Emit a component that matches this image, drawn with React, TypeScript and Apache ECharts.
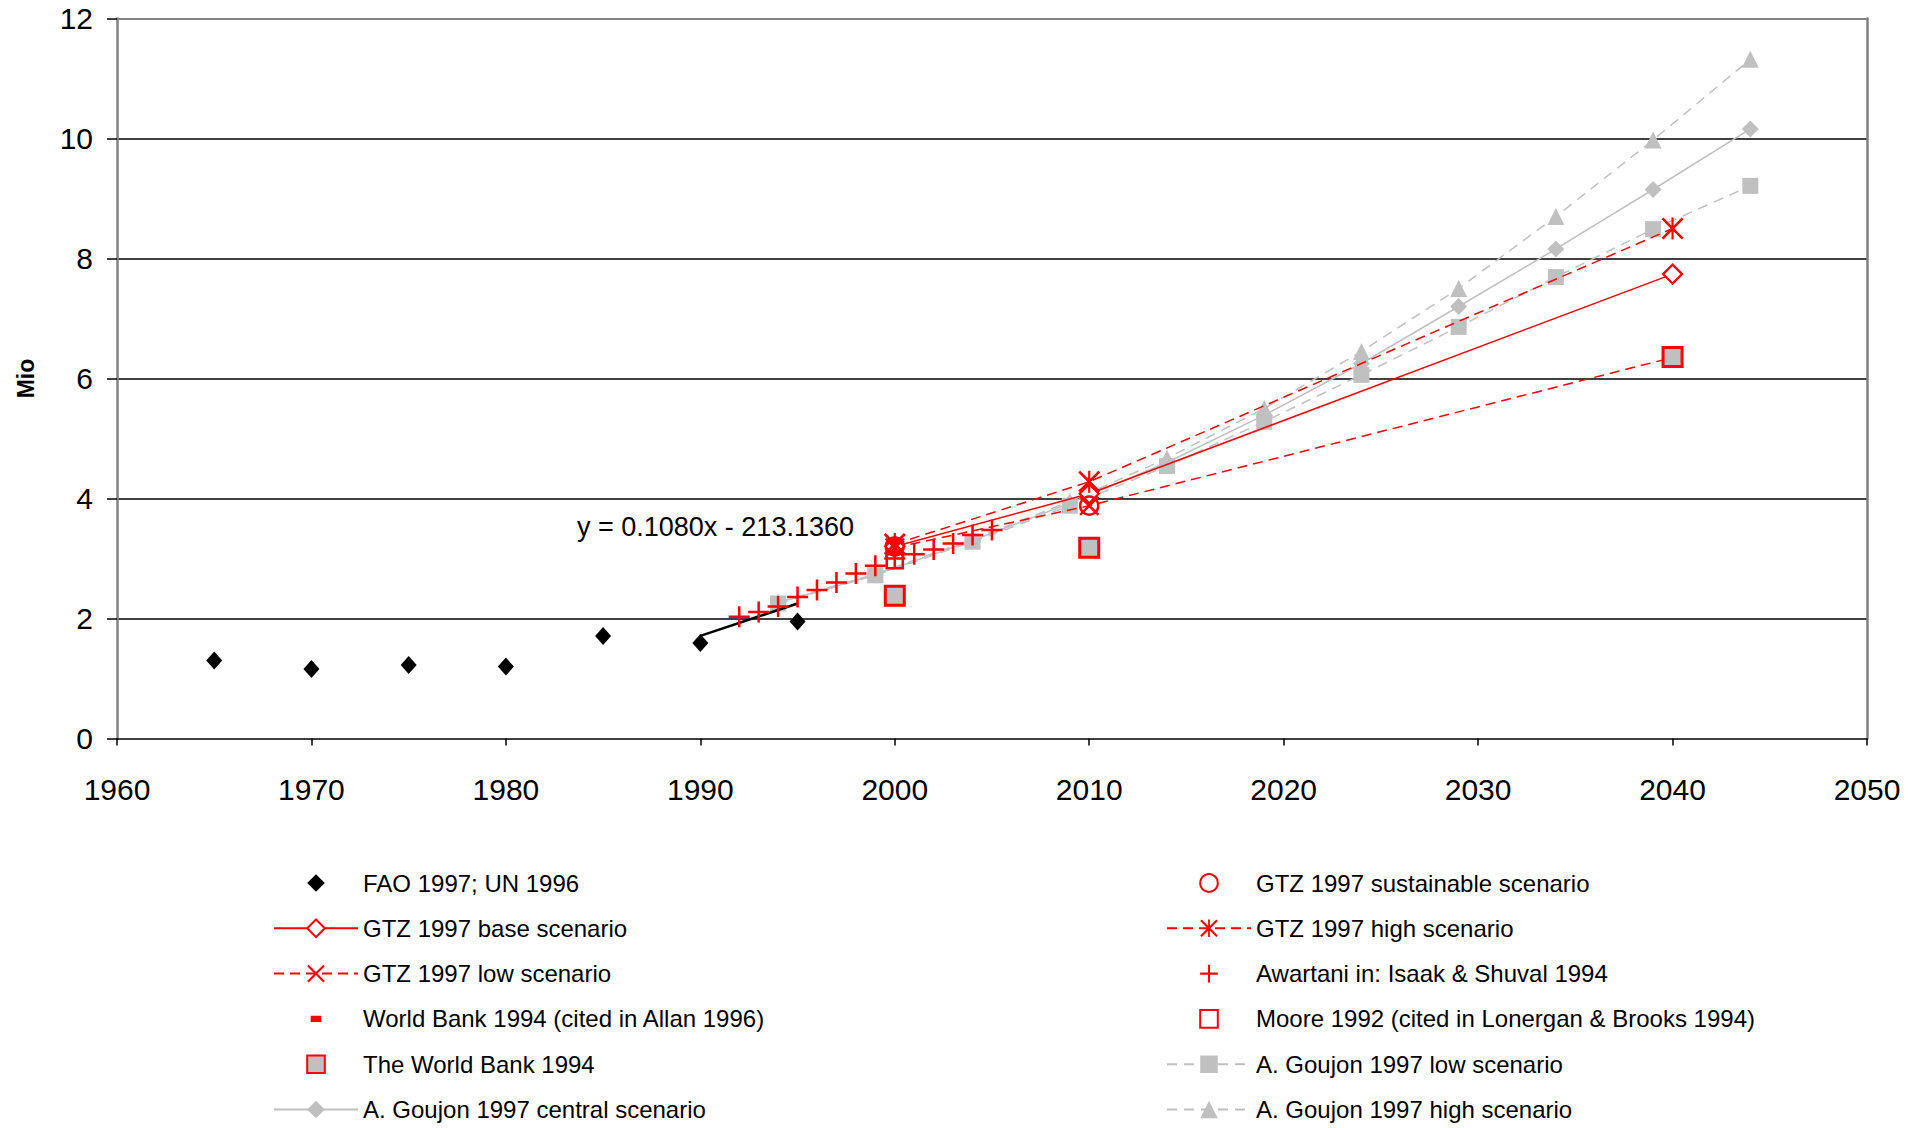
import React, { useEffect, useRef } from "react";
import * as echarts from "echarts";

// ---------- data ----------
const faoYears = [1965, 1970, 1975, 1980, 1985, 1990, 1995];
const faoValues = [1.3, 1.16, 1.225, 1.2, 1.71, 1.59, 1.95];

const trendYears = [1990, 1995];
const trendValues = [1.71, 2.25];

const gtzYears = [2000, 2010, 2040];
const gtzBase = [3.2, 4.08, 7.74];
const gtzLow = [3.18, 3.88, 6.35];
const gtzHigh = [3.24, 4.28, 8.5];

const gtzSustYears = [2000, 2010];
const gtzSust = [3.2, 3.88];

const awartaniYears = [1992, 1993, 1994, 1995, 1996, 1997, 1998, 1999, 2000, 2001, 2002, 2003, 2004, 2005];
const awartaniValues = [2.03, 2.11, 2.2, 2.36, 2.475, 2.6, 2.75, 2.88, 3.0, 3.07, 3.15, 3.25, 3.39, 3.475];

const wbAllanYears = [2000];
const wbAllanValues = [3.27];

const mooreYears = [2000];
const mooreValues = [2.97];

const wb94Years = [2000, 2010, 2040];
const wb94Values = [2.38, 3.18, 6.36];

const goujonYears = [1994, 1999, 2004, 2009, 2014, 2019, 2024, 2029, 2034, 2039, 2044];
const goujonLow = [2.25, 2.72, 3.28, 3.88, 4.54, 5.28, 6.06, 6.86, 7.69, 8.49, 9.21];
const goujonCentral = [2.26, 2.73, 3.3, 3.92, 4.6, 5.39, 6.25, 7.2, 8.16, 9.15, 10.16];
const goujonHigh = [2.27, 2.74, 3.32, 3.95, 4.67, 5.5, 6.45, 7.5, 8.7, 9.975, 11.32];

const legendLeft = [
  "FAO 1997; UN 1996",
  "GTZ 1997 base scenario",
  "GTZ 1997 low scenario",
  "World Bank 1994 (cited in Allan 1996)",
  "The World Bank 1994",
  "A. Goujon 1997 central scenario",
];
const legendRight = [
  "GTZ 1997 sustainable scenario",
  "GTZ 1997 high scenario",
  "Awartani in: Isaak & Shuval 1994",
  "Moore 1992 (cited in Lonergan & Brooks 1994)",
  "A. Goujon 1997 low scenario",
  "A. Goujon 1997 high scenario",
];

const equationText = "y = 0.1080x - 213.1360";
const yAxisName = "Mio";

// ---------- styling ----------
const FONT = "'Liberation Sans', Arial, Helvetica, sans-serif";
const RED = "#ff0000";
const GRAY = "#c0c0c0";

const X_PATH =
  "path://M0,8.5 L8.5,0 L50,41.5 L91.5,0 L100,8.5 L58.5,50 L100,91.5 L91.5,100 L50,58.5 L8.5,100 L0,91.5 L41.5,50 Z";
const ASTERISK_PATH = X_PATH + " M45,0 L55,0 L55,100 L45,100 Z";
const PLUS_PATH =
  "path://M44,0 L56,0 L56,44 L100,44 L100,56 L56,56 L56,100 L44,100 L44,56 L0,56 L0,44 L44,44 Z";
// small dash inside a square box (tiny corner specks fix the box size)
const DASH_PATH =
  "path://M0,0 L0.4,0 L0.4,0.4 L0,0.4 Z M99.6,99.6 L100,99.6 L100,100 L99.6,100 Z M20,32 L80,32 L80,68 L20,68 Z";

const zip = (xs: number[], ys: number[]) => xs.map((x, i) => [x, ys[i]]);

// marker-only series drawn as a line series with an invisible line
const markerOnly = { type: "line", lineStyle: { width: 0, opacity: 0 }, showSymbol: true };

export default function App() {
  const ref = useRef<HTMLDivElement>(null);

  useEffect(() => {
    if (!ref.current) return;
    const chart = echarts.init(ref.current, undefined, { renderer: "svg" });

    const legendCommon = {
      orient: "vertical" as const,
      itemWidth: 84,
      itemHeight: 22,
      itemGap: 21.3,
      padding: 0,
      selectedMode: false,
      textStyle: { fontSize: 24, color: "#000", fontFamily: FONT, lineHeight: 24 },
    };

    const option: any = {
      animation: false,
      backgroundColor: "#fff",
      textStyle: { fontFamily: FONT },
      grid: { left: 117, right: 63, top: 18.5, bottom: 389.5, containLabel: false },
      legend: [
        { ...legendCommon, left: 273, top: 871, data: legendLeft },
        { ...legendCommon, left: 1166, top: 871, data: legendRight },
      ],
      xAxis: [
        {
          type: "value",
          min: 1960,
          max: 2050,
          interval: 10,
          axisLine: { show: true, onZero: false, lineStyle: { color: "#000", width: 1.5 } },
          axisTick: { show: true, inside: false, length: 7, lineStyle: { color: "#000", width: 1.5 } },
          axisLabel: {
            fontSize: 30,
            color: "#000",
            margin: 36,
            fontFamily: FONT,
            formatter: (v: number) => String(v),
          },
          splitLine: { show: false },
        },
        {
          type: "value",
          position: "top",
          min: 1960,
          max: 2050,
          interval: 10,
          axisLine: { show: true, onZero: false, lineStyle: { color: "#808080", width: 2 } },
          axisTick: { show: false },
          axisLabel: { show: false },
          splitLine: { show: false },
        },
      ],
      yAxis: [
        {
          type: "value",
          min: 0,
          max: 12,
          interval: 2,
          name: yAxisName,
          nameLocation: "middle",
          nameGap: 80,
          nameTextStyle: { fontSize: 23, fontWeight: "bold", color: "#000", fontFamily: FONT },
          axisLine: { show: true, onZero: false, lineStyle: { color: "#808080", width: 2.5 } },
          axisTick: { show: true, inside: false, length: 10, lineStyle: { color: "#000", width: 1.5 } },
          axisLabel: { fontSize: 30, color: "#000", margin: 24, fontFamily: FONT },
          splitLine: {
            show: true,
            showMinLine: false,
            showMaxLine: false,
            lineStyle: { color: "#000", width: 1.5 },
          },
        },
        {
          type: "value",
          position: "right",
          min: 0,
          max: 12,
          interval: 2,
          axisLine: { show: true, onZero: false, lineStyle: { color: "#808080", width: 2.5 } },
          axisTick: { show: false },
          axisLabel: { show: false },
          splitLine: { show: false },
        },
      ],
      graphic: [
        {
          type: "text",
          x: 577,
          y: 527,
          style: {
            text: equationText,
            fontSize: 27,
            fill: "#000",
            fontFamily: FONT,
            verticalAlign: "middle",
            align: "left",
          },
          z: 100,
        },
      ],
      series: [
        {
          ...markerOnly,
          name: legendLeft[0],
          symbol: "diamond",
          symbolSize: [16, 18],
          itemStyle: { color: "#000", opacity: 1 },
          data: zip(faoYears, faoValues),
          z: 3,
        },
        {
          name: "trend",
          type: "line",
          symbol: "none",
          lineStyle: { color: "#000", width: 2.5 },
          data: zip(trendYears, trendValues),
          z: 3,
        },
        {
          name: legendLeft[1],
          type: "line",
          symbol: "diamond",
          symbolSize: 19,
          itemStyle: { color: "#fff", borderColor: RED, borderWidth: 2.2 },
          lineStyle: { color: RED, width: 1.5, type: "solid" },
          data: zip(gtzYears, gtzBase),
          z: 3,
        },
        {
          name: legendLeft[2],
          type: "line",
          symbol: X_PATH,
          symbolSize: 20,
          itemStyle: { color: RED },
          lineStyle: { color: RED, width: 1.5, type: [10, 6] },
          data: zip(gtzYears, gtzLow),
          z: 3,
        },
        {
          ...markerOnly,
          name: legendRight[0],
          symbol: "circle",
          symbolSize: 18,
          itemStyle: { color: "rgba(255,255,255,0)", borderColor: RED, borderWidth: 2.5, opacity: 1 },
          data: zip(gtzSustYears, gtzSust),
          z: 3,
        },
        {
          name: legendRight[1],
          type: "line",
          symbol: ASTERISK_PATH,
          symbolSize: 22,
          itemStyle: { color: RED },
          lineStyle: { color: RED, width: 1.5, type: [10, 6] },
          data: zip(gtzYears, gtzHigh),
          z: 3,
        },
        {
          ...markerOnly,
          name: legendRight[2],
          symbol: PLUS_PATH,
          symbolSize: 21,
          itemStyle: { color: RED, opacity: 1 },
          data: zip(awartaniYears, awartaniValues),
          z: 3,
        },
        {
          ...markerOnly,
          name: legendLeft[3],
          symbol: DASH_PATH,
          symbolSize: 16,
          itemStyle: { color: RED, opacity: 1 },
          data: zip(wbAllanYears, wbAllanValues),
          z: 3,
        },
        {
          ...markerOnly,
          name: legendRight[3],
          symbol: "rect",
          symbolSize: 16,
          itemStyle: { color: "rgba(255,255,255,0)", borderColor: RED, borderWidth: 2.5, opacity: 1 },
          data: zip(mooreYears, mooreValues),
          z: 3,
        },
        {
          ...markerOnly,
          name: legendLeft[4],
          symbol: "rect",
          symbolSize: 19,
          itemStyle: { color: GRAY, borderColor: RED, borderWidth: 3, opacity: 1 },
          data: zip(wb94Years, wb94Values),
          z: 4,
        },
        {
          name: legendLeft[5],
          type: "line",
          symbol: "diamond",
          symbolSize: 17,
          itemStyle: { color: GRAY },
          lineStyle: { color: GRAY, width: 1.5, type: "solid" },
          data: zip(goujonYears, goujonCentral),
          z: 2,
        },
        {
          name: legendRight[4],
          type: "line",
          symbol: "rect",
          symbolSize: 16,
          itemStyle: { color: GRAY },
          lineStyle: { color: GRAY, width: 1.5, type: [10, 7] },
          data: zip(goujonYears, goujonLow),
          z: 2,
        },
        {
          name: legendRight[5],
          type: "line",
          symbol: "triangle",
          symbolSize: 17,
          itemStyle: { color: GRAY },
          lineStyle: { color: GRAY, width: 1.5, type: [10, 7] },
          data: zip(goujonYears, goujonHigh),
          z: 2,
        },
      ],
    };

    chart.setOption(option);
    return () => chart.dispose();
  }, []);

  return (
    <div
      ref={ref}
      style={{ position: "fixed", left: 0, top: 0, width: 1930, height: 1128, background: "#fff" }}
    />
  );
}
